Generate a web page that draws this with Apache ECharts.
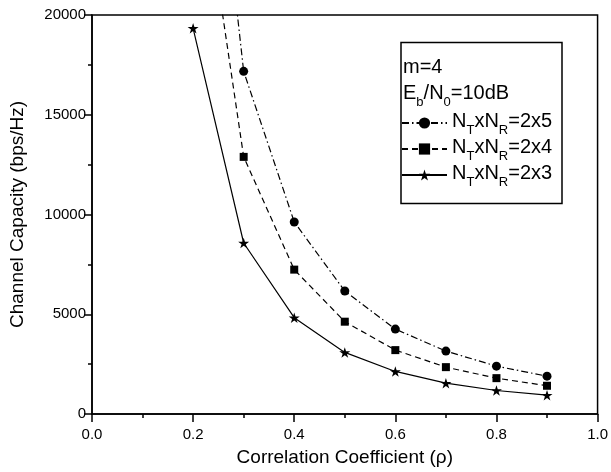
<!DOCTYPE html>
<html><head><meta charset="utf-8">
<script src="https://cdn.jsdelivr.net/npm/echarts@6/dist/echarts.min.js"></script>
<style>html,body{margin:0;padding:0;background:#fff}#c{width:611px;height:472px}</style>
</head><body><div id="c"></div>
<script>
const rho = [0.2, 0.3, 0.4, 0.5, 0.6, 0.7, 0.8, 0.9];
const cap2x5 = [40000, 17175, 9626, 6163, 4256, 3152, 2399, 1897];
const cap2x4 = [30000, 12888, 7237, 4627, 3202, 2349, 1797, 1415];
const cap2x3 = [19332, 8572, 4828, 3087, 2133, 1546, 1179, 944];
const seriesNames = ['2x5', '2x4', '2x3'];
const xTitle = 'Correlation Coefficient (\u03c1)';
const yTitle = 'Channel Capacity (bps/Hz)';

const FONT = 'Liberation Sans';
const STAR = 'path://M50,0 L61.2,34.5 L97.6,34.5 L68.2,55.9 L79.4,90.5 L50,69.1 L20.6,90.5 L31.8,55.9 L2.4,34.5 L38.8,34.5 Z';
const pairs = v => rho.map((x, i) => [x, v[i]]);

const chart = echarts.init(document.getElementById('c'), null, {renderer: 'canvas'});
const rich = {
  n: {fontSize: 20, fontFamily: FONT, color: '#000', verticalAlign: 'top', padding: [2, 0, 0, 0]},
  s: {fontSize: 13, fontFamily: FONT, color: '#000', verticalAlign: 'top', padding: [15, 0, 0, 0]}
};
chart.setOption({
  animation: false,
  backgroundColor: '#fff',
  grid: {left: 88, right: 9, top: 15, bottom: 58, show: true, borderColor: '#000', borderWidth: 1.5, backgroundColor: 'transparent'},
  xAxis: {
    type: 'value', min: 0, max: 1, interval: 0.2,
    name: xTitle, nameLocation: 'middle', nameGap: 34,
    nameTextStyle: {fontFamily: FONT, fontSize: 19, color: '#000'},
    axisLine: {show: true, lineStyle: {color: '#000', width: 1.5}},
    axisTick: {show: true, length: 8, lineStyle: {color: '#000', width: 1.5}},
    minorTick: {show: true, splitNumber: 2, length: 4, lineStyle: {color: '#000', width: 1.5}},
    axisLabel: {fontFamily: FONT, fontSize: 15, color: '#000', margin: 13, formatter: v => v.toFixed(1)},
    splitLine: {show: false}
  },
  yAxis: {
    type: 'value', min: 0, max: 20000, interval: 5000,
    name: yTitle, nameLocation: 'middle', nameGap: 65,
    nameTextStyle: {fontFamily: FONT, fontSize: 19, color: '#000'},
    axisLine: {show: true, lineStyle: {color: '#000', width: 1.5}},
    axisTick: {show: true, length: 8, lineStyle: {color: '#000', width: 1.5}},
    minorTick: {show: true, splitNumber: 2, length: 4, lineStyle: {color: '#000', width: 1.5}},
    axisLabel: {fontFamily: FONT, fontSize: 15, color: '#000', margin: 6, formatter: v => String(v)},
    splitLine: {show: false}
  },
  legend: {
    left: 401, top: 111, orient: 'vertical', padding: 0, itemGap: 0,
    itemWidth: 45, itemHeight: 14,
    data: seriesNames,
    formatter: n => '{n|N}{s|T}{n|xN}{s|R}{n|=' + n + '}',
    textStyle: {rich: rich, fontFamily: FONT, fontSize: 20, color: '#000', height: 28}
  },
  graphic: [
    {type: 'rect', shape: {x: 401, y: 42.5, width: 161, height: 161}, style: {fill: 'none', stroke: '#000', lineWidth: 1.5}, z: 10},
    {type: 'text', left: 403, top: 57, style: {text: 'm=4', font: '20px "Liberation Sans"', fill: '#000'}, z: 10},
    {type: 'text', left: 403, top: 83, style: {text: '{n|E}{s|b}{n|/N}{s|0}{n|=10dB}', rich: rich, fill: '#000'}, z: 10}
  ],
  series: [
    {name: seriesNames[0], type: 'line', data: pairs(cap2x5), clip: true,
     symbol: 'circle', symbolSize: 9, itemStyle: {color: '#000'},
     lineStyle: {color: '#000', width: 1.2, type: [7, 3, 1.5, 3]}},
    {name: seriesNames[1], type: 'line', data: pairs(cap2x4), clip: true,
     symbol: 'rect', symbolSize: 8, itemStyle: {color: '#000'},
     lineStyle: {color: '#000', width: 1.2, type: [6, 4]}},
    {name: seriesNames[2], type: 'line', data: pairs(cap2x3), clip: true,
     symbol: STAR, symbolSize: 11, symbolKeepAspect: true, itemStyle: {color: '#000'},
     lineStyle: {color: '#000', width: 1.2, type: 'solid'}}
  ]
});
</script></body></html>
